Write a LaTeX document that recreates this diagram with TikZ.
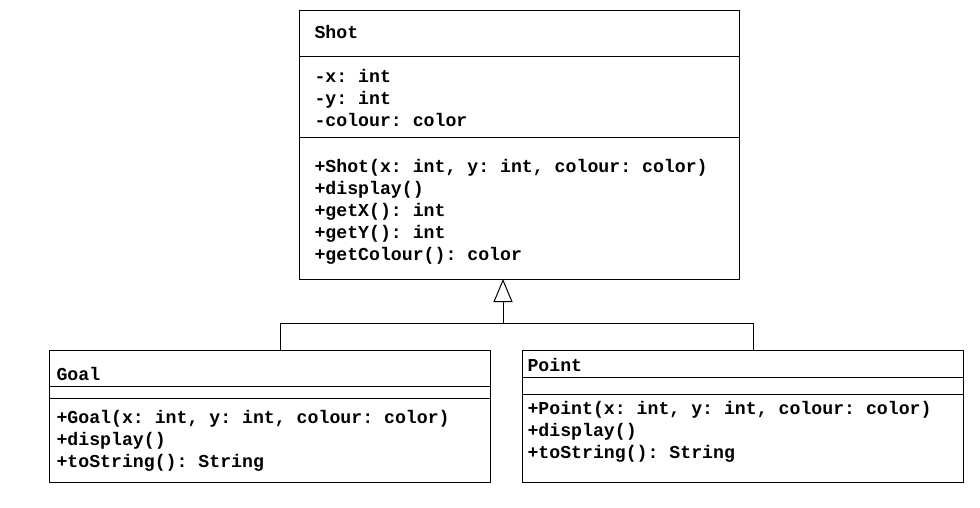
\documentclass[tikz,border=0pt]{standalone}
\usepackage{fontspec}
\newfontfamily\umlfont{Liberation Mono}
\usetikzlibrary{arrows.meta}

\begin{document}
\begin{tikzpicture}[x=1pt, y=-1pt, line width=1pt,
	classbox/.style={draw, rectangle, anchor=north west, inner sep=0pt, outer sep=0pt},
	member/.style={anchor=base west, inner sep=0pt, font=\umlfont\bfseries\fontsize{18.2}{22}\selectfont\frenchspacing}]
			%%%%% START %%%%%
			\useasboundingbox (0,0) rectangle (980,508);
			
			% Shot
			\node[classbox, minimum width=440pt, minimum height=268pt] (shot) at (299,11) {};
			\draw (shot.west |- 0,57) -- (shot.east |- 0,57);
			\draw (shot.west |- 0,138) -- (shot.east |- 0,138);
			\node[member] (shot-name) at (314,39) {Shot};
			\foreach \txt [count=\i] in {{-x: int},{-y: int},{-colour: color}}
				\node[member] (shot-a\i) at (314,61+22*\i) {\txt};
			\foreach \txt [count=\i] in {{+Shot(x: int, y: int, colour: color)},{+display()},{+getX(): int},{+getY(): int},{+getColour(): color}}
				\node[member] (shot-m\i) at (314,150+22*\i) {\txt};
			
			% Goal
			\node[classbox, minimum width=441pt, minimum height=132pt] (goal) at (49,350) {};
			\draw (goal.west |- 0,386) -- (goal.east |- 0,386);
			\draw (goal.west |- 0,398) -- (goal.east |- 0,398);
			\node[member] (goal-name) at (56,380) {Goal};
			\foreach \txt [count=\i] in {{+Goal(x: int, y: int, colour: color)},{+display()},{+toString(): String}}
				\node[member] (goal-m\i) at (56,401+22*\i) {\txt};
			
			% Point
			\node[classbox, minimum width=441pt, minimum height=132pt] (point) at (522,350) {};
			\draw (point.west |- 0,377) -- (point.east |- 0,377);
			\draw (point.west |- 0,394) -- (point.east |- 0,394);
			\node[member] (point-name) at (527,371) {Point};
			\foreach \txt [count=\i] in {{+Point(x: int, y: int, colour: color)},{+display()},{+toString(): String}}
				\node[member] (point-m\i) at (527,392+22*\i) {\txt};
			
			% inheritance
			\coordinate (join) at (503,323);
			\coordinate (goal-top) at (280,350);
			\coordinate (point-top) at (753,350);
			\draw (goal-top) |- (join);
			\draw (point-top) |- (join);
			\draw[-{Triangle[open, length=23pt, width=19pt]}] (join) -- (join |- shot.south);
			
			%%%%% END %%%%%
\end{tikzpicture}
\end{document}
